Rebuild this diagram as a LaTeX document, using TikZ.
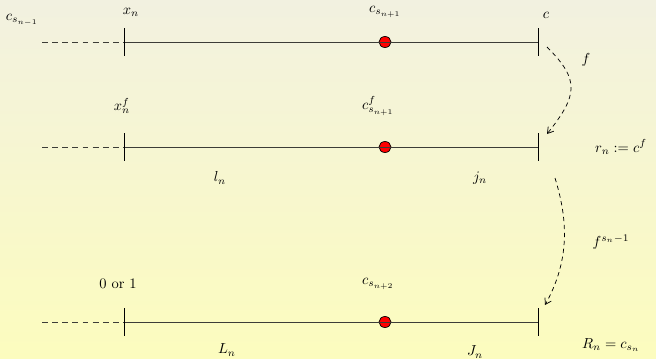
\documentclass[tikz,border=0pt]{standalone}
\usetikzlibrary{arrows.meta}
\definecolor{bgtop}{RGB}{242,241,224}
\definecolor{bgbot}{RGB}{252,252,190}
\definecolor{linegray}{RGB}{60,60,55}
\begin{document}
\begin{tikzpicture}[x=0.69pt,y=-0.69pt,
  lbl/.style={inner sep=0pt,font=\normalsize},
  seg/.style={draw=linegray,line width=0.6pt},
  dashseg/.style={draw=linegray,line width=0.6pt,dash pattern=on 4pt off 3pt},
  tick/.style={draw=black,line width=0.6pt},
  dot/.style={draw=black,fill=red,line width=0.5pt},
  maparrow/.style={draw=black,line width=0.5pt,dash pattern=on 3pt off 2.5pt,-{Straight Barb[length=4pt,width=5pt]}}]
\shade[top color=bgtop,bottom color=bgbot] (0,0) rectangle (656,358);
\useasboundingbox (0,0) rectangle (656,358);
% row coordinates
\foreach \r/\y in {a/42,b/147,c/322}{
  \coordinate (\r0) at (42,\y);
  \coordinate (\r1) at (124,\y);
  \coordinate (\r2) at (538,\y);
  \coordinate (\r d) at (385,\y);
}
\foreach \r in {a,b,c}{
  \fill[dot] (\r d) ellipse (6 and 5.5);
  \draw[dashseg] (\r0) -- (\r1);
  \draw[seg] (\r1) -- (\r2);
  \draw[tick] ([yshift=9.5]\r1) -- ([yshift=-9.5]\r1);
  \draw[tick] ([yshift=9.5]\r2) -- ([yshift=-9.5]\r2);
}
% labels row 1
\node[lbl] (csm) at (22,20) {$c_{s_{n-1}}$};
\node[lbl] (xn) at (131,12) {$x_n$};
\node[lbl] (csp) at (385,12) {$c_{s_{n+1}}$};
\node[lbl] (cc) at (546,15) {$c$};
% labels row 2
\node[lbl] (xnf) at (122,106) {$x_n^f$};
\node[lbl] (cspf) at (378,106) {$c^f_{s_{n+1}}$};
\node[lbl] (ln) at (220,178) {$l_n$};
\node[lbl] (jn) at (480,178) {$j_n$};
\node[lbl] (rn) at (621,147) {$r_n:=c^f$};
% labels row 3
\node[lbl] (zo) at (118,284) {$0$ or $1$};
\node[lbl] (cspp) at (378,284) {$c_{s_{n+2}}$};
\node[lbl] (Ln) at (227,350) {$L_n$};
\node[lbl] (Jn) at (475,352) {$J_n$};
\node[lbl] (Rn) at (611,345) {$R_n=c_{s_n}$};
% map arrows
\coordinate (f1s) at (547,47);
\coordinate (f1e) at (547,134);
\coordinate (f2s) at (555,178);
\coordinate (f2e) at (545,305);
\draw[maparrow] (f1s) .. controls (580,80) and (578,95) .. (f1e);
\node[lbl] (fl) at (586,60) {$f$};
\draw[maparrow] (f2s) .. controls (568,220) and (570,260) .. (f2e);
\node[lbl] (fsl) at (611,242) {$f^{s_n-1}$};
\end{tikzpicture}
\end{document}
